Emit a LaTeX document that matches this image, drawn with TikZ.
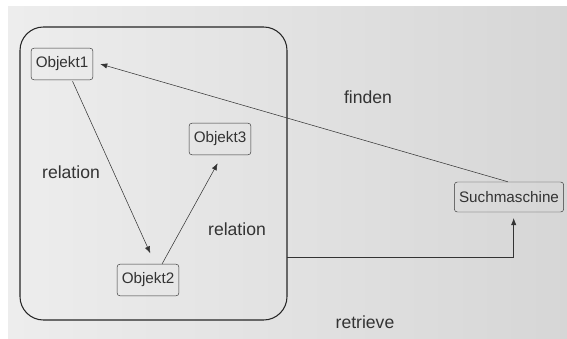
\documentclass[tikz,border=0pt]{standalone}
\usepackage{fontspec}
\setmainfont{Liberation Sans}
\usetikzlibrary{arrows.meta, positioning}

\tikzset{
  objbox/.style={draw=black!80, rounded corners=2.5pt, inner xsep=4pt, font=\fontsize{13}{15}\selectfont, text=black!80, minimum height=0.95cm},
  lbl/.style={font=\fontsize{15}{17}\selectfont, text=black!80},
  conn/.style={draw=black!80, line width=0.45pt, -{Latex[length=6pt, width=4.5pt]}}
}

\begin{document}
\begin{tikzpicture}[x=0.03cm, y=-0.03cm, >=latex]
\useasboundingbox (0,0) rectangle (567,338);
% background
\shade[left color=black!7, right color=black!16] (8,7) rectangle (567,338);
% group frame
\draw[black!85, line width=0.9pt, rounded corners=20] (20,27) rectangle (287,320);
\coordinate (frameout) at (287,257);

\node[objbox] (obj1) at (62,64) {Objekt1};
\node[objbox] (obj3) at (220,139) {Objekt3};
\node[objbox] (obj2) at (148,280) {Objekt2};
\node[objbox, minimum height=0.9cm] (search) at (509,197) {Suchmaschine};

\draw[conn] ([xshift=9pt,yshift=-1pt]obj1.south) -- ([xshift=2pt,yshift=9pt]obj2.north);
\draw[conn] ([xshift=12pt]obj2.north) -- ([xshift=-2pt,yshift=-7pt]obj3.south);
\draw[conn] ([xshift=-1pt]search.north) -- ([xshift=6pt]obj1.east);
\draw[conn] (frameout) -| ([xshift=4pt,yshift=-5pt]search.south);

\node[lbl] (rel1) at (71,172) {relation};
\node[lbl] (rel2) at (237,229) {relation};
\node[lbl] (find) at (368,97) {finden};
\node[lbl] (retr) at (365,322) {retrieve};
\end{tikzpicture}
\end{document}
